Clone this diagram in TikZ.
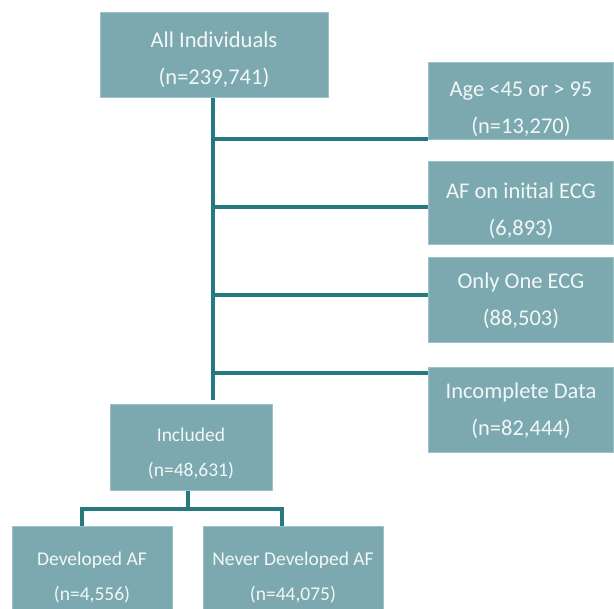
\documentclass[tikz,border=0pt]{standalone}
\usepackage{fontspec}
\setmainfont{Carlito}
\definecolor{boxfill}{HTML}{7BA9AF}
\definecolor{boxedge}{HTML}{9CC3C8}
\definecolor{linkcol}{HTML}{257A7E}
\definecolor{labelcol}{HTML}{F2F7F7}
\begin{document}
\begin{tikzpicture}[x=1pt,y=-1pt,
    stage/.style={draw=boxedge,line width=1pt,fill=boxfill,text=labelcol,align=center,inner sep=0pt,font=\fontsize{22.5}{37}\selectfont},
    small/.style={font=\fontsize{19.5}{35}\selectfont},
    link/.style={draw=linkcol,line width=4.5pt}]
        \clip (0,0) rectangle (614,609);
        \fill[white] (0,0) rectangle (614,609);
        % boxes
        \node[stage,minimum width=228pt,minimum height=85pt,text height=61pt] (all) at (214,55.5) {All Individuals\\(n=239,741)};
        \node[stage,minimum width=185pt,minimum height=77pt,text height=67pt] (age) at (521,101.5) {Age <45 or > 95\\(n=13,270)};
        \node[stage,minimum width=185pt,minimum height=83pt,text height=67pt] (ecg) at (521,203.5) {AF on initial ECG\\(6,893)};
        \node[stage,minimum width=185pt,minimum height=85pt] (one) at (521,300.5) {Only One ECG\\(88,503)};
        \node[stage,minimum width=185pt,minimum height=85pt] (incomplete) at (521,410.5) {Incomplete Data\\(n=82,444)};
        \node[stage,small,minimum width=162pt,minimum height=86pt,text height=59pt] (included) at (191,448) {Included\\(n=48,631)};
        \node[stage,small,minimum width=160pt,minimum height=94pt,text height=55pt] (developed) at (92,574) {Developed AF\\(n=4,556)};
        \node[stage,small,minimum width=180pt,minimum height=94pt,text height=55pt] (never) at (293,574) {Never Developed AF\\(n=44,075)};
        % trunk and branches
        \coordinate (t1) at (213,139);
        \coordinate (t2) at (213,207);
        \coordinate (t3) at (213,295);
        \coordinate (t4) at (213,373);
        \coordinate (tend) at (213,400);
        \draw[link] (all.south -| tend) -- (tend);
        \draw[link] (t1) -- (t1 -| age.west);
        \draw[link] (t2) -- (t2 -| ecg.west);
        \draw[link] (t3) -- (t3 -| one.west);
        \draw[link] (t4) -- (t4 -| incomplete.west);
        % split
        \coordinate (split) at (188,509);
        \draw[link] (included.south -| split) -- (split);
        \draw[link] (developed.north -| 82,0) |- (split) -| (never.north -| 282,0);
      \end{tikzpicture}
\end{document}
